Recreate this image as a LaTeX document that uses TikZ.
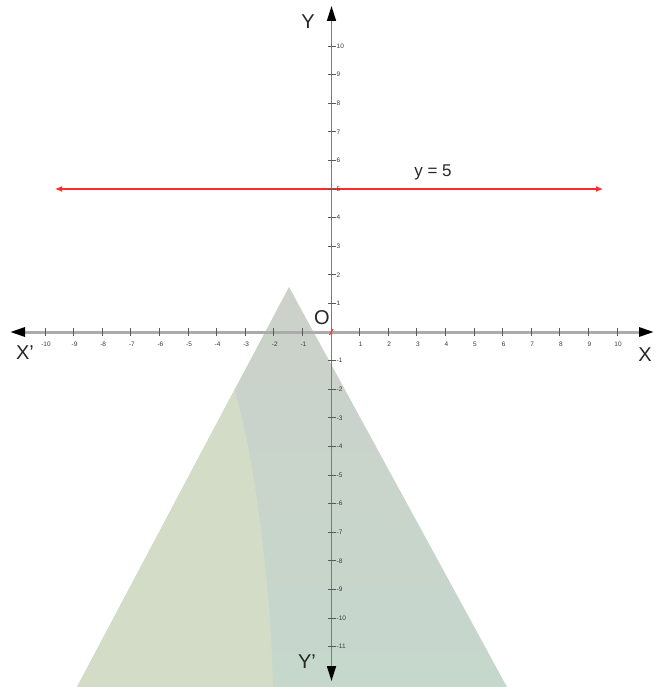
\documentclass[tikz,border=0pt]{standalone}
\usepackage{fontspec}
\setmainfont{Liberation Sans}
\usetikzlibrary{arrows.meta}
\definecolor{xaxisc}{HTML}{ABABAB}
\definecolor{yaxisc}{HTML}{7A7A7A}
\definecolor{tickc}{HTML}{5A5A5A}
\definecolor{labc}{HTML}{3A3A3A}
\definecolor{regtop}{HTML}{CCD1CA}
\definecolor{regbot}{HTML}{C6D7CC}
\definecolor{regleft}{HTML}{D3DCC7}
\definecolor{redline}{HTML}{FF2A2A}
\tikzset{
  xaxisline/.style={color=xaxisc, line width=3pt, {Triangle[length=15pt,width=9pt,color=black]}-{Triangle[length=15pt,width=9pt,color=black]}},
  yaxisline/.style={color=yaxisc, line width=1.6pt, {Triangle[length=15pt,width=9pt,color=black]}-{Triangle[length=15pt,width=9pt,color=black]}},
  tickmark/.style={color=tickc, line width=0.9pt},
  ticklab/.style={font=\fontsize{6.5}{6.5}\selectfont, text=labc, inner sep=0pt},
  biglab/.style={font=\fontsize{20}{20}\selectfont, text=black!85, inner sep=0pt},
  eqlab/.style={font=\fontsize{17}{17}\selectfont, text=black!85, inner sep=0pt},
  redarrow/.style={color=redline, line width=1.2pt, {Latex[length=7pt,width=6pt]}-{Latex[length=7pt,width=6pt]}}
}
\begin{document}
\begin{tikzpicture}[x=1pt,y=-1pt]
\useasboundingbox (0,0) rectangle (654,687);
% shaded region
\shade[top color=regtop, bottom color=regbot] (289,287) -- (507,687) -- (77,687) -- cycle;
\fill[regleft] (234.4,390) .. controls (250,440) and (270,560) .. (273,687) -- (77,687) -- cycle;
% red line y = 5
\coordinate (rl) at (55,189);
\coordinate (rr) at (603,189);
\draw[redarrow] (rl) -- (rr);
\node[eqlab] (eq) at (433,172) {y = 5};
% x axis
\coordinate (xl) at (10,332);
\coordinate (xr) at (654,332);
\draw[xaxisline] (xl) -- (xr);
\foreach \k in {-10,...,-1,1,2,...,10} {
  \draw[tickmark] ({331+\k*28.6},328) -- ({331+\k*28.6},336);
  \node[ticklab] (xt\k) at ({332+\k*28.6},344) {\k};
}
% y axis
\coordinate (yt) at (331.5,6);
\coordinate (yb) at (331.5,681);
\draw[yaxisline] (yb) -- (yt);
\foreach \k in {-11,...,-1,1,2,...,10} {
  \draw[tickmark] (327.5,{332-\k*28.6}) -- (335.5,{332-\k*28.6});
  \node[ticklab, anchor=west] (yl\k) at (336.5,{332-\k*28.6}) {\k};
}
% origin red mark
\draw[redline, line width=1pt] (329.5,335) -- (333,329);
% labels
\node[biglab] (Y) at (308,22) {Y};
\node[biglab] (Yp) at (307,662) {Y'};
\node[biglab] (Xp) at (25,353) {X'};
\node[biglab] (X) at (645,355) {X};
\node[biglab] (O) at (322,318) {O};
\end{tikzpicture}
\end{document}
